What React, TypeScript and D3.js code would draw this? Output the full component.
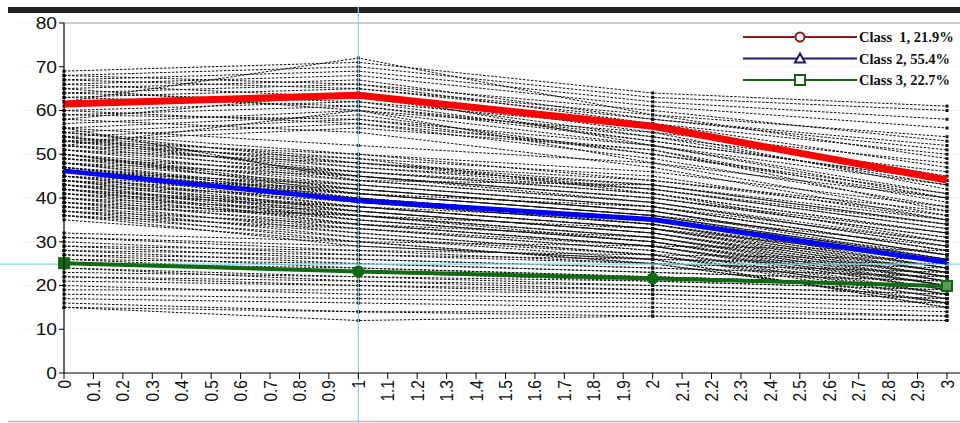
import React from 'react';
import * as d3 from 'd3';

// time points and class mean trajectories
const times = [0, 1, 2, 3];
const class1Mean = [61.5, 63.5, 56.4, 44.1];
const class2Mean = [46.2, 39.4, 35.1, 25.3];
const class3Mean = [25.1, 23.2, 21.6, 19.9];

const legendLabels = ['Class  1, 21.9%', 'Class 2, 55.4%', 'Class 3, 22.7%'];
const yTicks = [0, 10, 20, 30, 40, 50, 60, 70, 80];

// individual trajectories (values at times 0..3)
const class1Subjects = [
  [69, 71, 64, 61], [62, 72, 59, 54], [68, 70, 63, 60], [67, 69, 62, 58],
  [66, 68, 61, 56], [68, 66, 60, 53], [65, 67, 58, 51], [64, 66, 57, 50],
  [63, 65, 59, 49], [62, 64, 55, 48], [61, 63, 54, 46], [60, 62, 56, 45],
  [59, 61, 53, 44], [58, 64, 52, 43], [57, 60, 55, 42], [56, 59, 50, 41],
  [55, 58, 52, 40], [54, 57, 49, 38], [53, 56, 51, 37], [52, 60, 48, 36],
  [66, 63, 57, 47], [64, 62, 53, 44], [60, 57, 51, 39], [58, 55, 47, 35],
  [67, 65, 58, 52], [63, 61, 54, 43], [59, 58, 50, 40], [65, 60, 52, 41],
];

const class2Subjects = [
  [56, 52, 48, 40], [55, 50, 46, 38], [55, 48, 44, 36], [54, 49, 45, 35],
  [54, 47, 43, 34], [53, 48, 42, 33], [53, 46, 41, 32], [52, 47, 42, 34],
  [52, 45, 40, 31], [51, 46, 41, 30], [51, 44, 39, 29], [50, 45, 40, 31],
  [50, 43, 38, 28], [50, 42, 37, 27], [49, 44, 39, 29], [49, 42, 37, 26],
  [48, 43, 38, 28], [48, 41, 36, 25], [48, 40, 35, 24], [47, 42, 37, 27],
  [47, 40, 35, 25], [47, 39, 34, 23], [46, 41, 36, 26], [46, 39, 34, 24],
  [46, 38, 33, 22], [45, 40, 35, 25], [45, 38, 33, 23], [45, 37, 32, 21],
  [44, 39, 34, 24], [44, 37, 32, 22], [44, 36, 31, 20], [43, 38, 33, 23],
  [43, 36, 31, 21], [43, 35, 30, 19], [42, 37, 32, 22], [42, 35, 30, 20],
  [42, 34, 29, 18], [41, 36, 31, 21], [41, 34, 29, 19], [40, 35, 30, 20],
  [40, 33, 28, 17], [39, 34, 29, 19], [39, 32, 27, 16], [38, 33, 28, 18],
  [38, 31, 26, 15], [37, 32, 27, 17], [37, 30, 25, 16], [36, 31, 27, 18],
  [36, 29, 26, 15], [35, 30, 25, 16], [56, 44, 43, 34], [53, 50, 44, 37],
  [49, 46, 42, 33], [46, 43, 38, 30], [41, 38, 35, 27], [38, 36, 33, 26],
  [44, 41, 36, 29], [51, 48, 43, 35], [54, 45, 39, 30], [52, 49, 41, 32],
  [50, 41, 36, 26], [48, 45, 40, 32], [47, 41, 38, 28], [45, 42, 37, 27],
  [43, 40, 34, 25], [42, 38, 33, 24], [40, 37, 32, 23], [39, 36, 30, 21],
  [37, 34, 31, 22], [36, 33, 29, 20],
];

const class3Subjects = [
  [32, 30, 29, 28], [31, 28, 27, 26], [31, 29, 26, 25], [30, 27, 26, 24],
  [29, 28, 25, 23], [29, 26, 24, 22], [28, 27, 25, 23], [28, 25, 23, 21],
  [27, 26, 24, 22], [27, 24, 22, 20], [26, 25, 23, 21], [26, 23, 22, 20],
  [25, 24, 22, 20], [25, 23, 21, 19], [24, 22, 21, 19], [24, 21, 20, 18],
  [23, 22, 20, 18], [22, 21, 19, 17], [22, 20, 18, 16], [21, 20, 19, 17],
  [20, 18, 17, 15], [19, 19, 18, 16], [18, 17, 16, 14], [17, 16, 15, 13],
  [16, 14, 14, 13], [15, 12, 13, 12], [15, 14, 13, 12],
];

const crossX = 1;
const crossY = 24.9;

export default function App() {
  const width = 960;
  const height = 423;
  const x = d3.scaleLinear().domain([0, 3]).range([64, 947]);
  const y = d3.scaleLinear().domain([0, 80]).range([373, 23]);
  const xTicks = d3.range(0, 31).map(i => i / 10);

  const line = d3.line<number>().x((d, i) => x(times[i])).y(d => y(d));
  const subjects = [...class1Subjects, ...class2Subjects, ...class3Subjects];

  const classes = [
    { mean: class1Mean, color: '#ff0000', width: 7, legend: '#8b1a1a' },
    { mean: class2Mean, color: '#0000ff', width: 5, legend: '#1a1a70' },
    { mean: class3Mean, color: '#0f6a12', width: 4, legend: '#1a5e1a' },
  ];

  const axisFont = 'Arial, "Liberation Sans", sans-serif';

  return (
    <svg width={width} height={height} style={{ position: 'absolute', left: 0, top: 0, background: '#fff' }}>
      {/* top bar and frame */}
      <rect x={8} y={7} width={952} height={6} fill="#222" />
      <line x1={64} x2={960} y1={23} y2={23} stroke="#8a8a8a" strokeWidth={1.5} />
      <line x1={8} x2={960} y1={421.5} y2={421.5} stroke="#bbb" strokeWidth={1.5} />

      {/* faint grid */}
      {yTicks.slice(1).map(t => (
        <line key={'g' + t} x1={20} x2={960} y1={y(t)} y2={y(t)} stroke="#f4f4f4" />
      ))}

      {/* individual trajectories */}
      {subjects.map((s, i) => (
        <g key={'s' + i}>
          <path d={line(s) || ''} fill="none" stroke="#111" strokeWidth={1} strokeDasharray="2.5,1.5" />
          {s.map((v, j) => (
            <rect key={j} x={x(times[j]) - 1.5} y={y(v) - 1.5} width={3} height={3} fill="#111" />
          ))}
        </g>
      ))}

      {/* crosshair */}
      <line x1={x(crossX)} x2={x(crossX)} y1={7} y2={423} stroke="#7fd6ee" strokeWidth={1.2} />
      <line x1={0} x2={960} y1={y(crossY)} y2={y(crossY)} stroke="#7fd6ee" strokeWidth={1.2} />

      {/* class means */}
      {classes.map((c, i) => (
        <path key={'c' + i} d={line(c.mean) || ''} fill="none" stroke={c.color} strokeWidth={c.width} strokeLinejoin="round" />
      ))}
      {class3Mean.map((v, j) => (
        j === 0 || j === 3 ? (
          <rect key={'m' + j} x={x(times[j]) - 5} y={y(v) - 5} width={10} height={10}
            fill={j === 3 ? '#5a9a5a' : '#0f6a12'} stroke="#0f6a12" strokeWidth={2} />
        ) : (
          <circle key={'m' + j} cx={x(times[j])} cy={y(v)} r={6} fill="#0f6a12" />
        )
      ))}

      {/* y axis */}
      <line x1={64} x2={64} y1={23} y2={373} stroke="#000" strokeWidth={1.2} />
      {yTicks.map(t => (
        <g key={'y' + t}>
          <line x1={59} x2={64} y1={y(t)} y2={y(t)} stroke="#000" />
          <text transform={`translate(57,${y(t)}) scale(1.2,1)`} dy="0.36em" textAnchor="end"
            fontFamily={axisFont} fontSize={16} fill="#111">{t}</text>
        </g>
      ))}

      {/* x axis */}
      <line x1={64} x2={960} y1={373} y2={373} stroke="#000" strokeWidth={1.2} />
      {xTicks.map(t => (
        <g key={'x' + t}>
          <line x1={x(t)} x2={x(t)} y1={373} y2={379} stroke="#000" />
          <text transform={`translate(${x(t)},380) scale(1.2,1) rotate(-90)`} dy="0.35em" textAnchor="end"
            fontFamily={axisFont} fontSize={15.5} fill="#111">{String(Math.round(t * 10) / 10)}</text>
        </g>
      ))}

      {/* legend */}
      {classes.map((c, i) => {
        const ly = 37 + i * 21.5;
        return (
          <g key={'l' + i}>
            <line x1={743} x2={857} y1={ly} y2={ly} stroke={c.legend} strokeWidth={2} />
            {i === 0 && <circle cx={800} cy={ly} r={4.5} fill="#fff" stroke={c.legend} strokeWidth={2} />}
            {i === 1 && <path d={`M800,${ly - 5}L805,${ly + 4}L795,${ly + 4}Z`} fill="#fff" stroke={c.legend} strokeWidth={2} />}
            {i === 2 && <rect x={795} y={ly - 5} width={10} height={10} fill="#fff" stroke={c.legend} strokeWidth={2} />}
            <text x={859} y={ly} dy="0.35em" fontFamily='"Times New Roman", "Liberation Serif", serif' fontWeight="bold"
              fontSize={14.5} fill="#111" style={{ whiteSpace: 'pre' }}>{legendLabels[i]}</text>
          </g>
        );
      })}
    </svg>
  );
}
